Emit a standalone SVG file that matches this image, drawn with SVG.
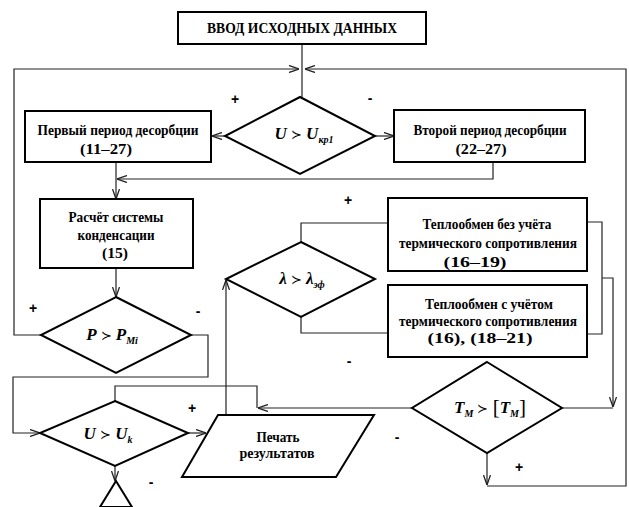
<svg xmlns="http://www.w3.org/2000/svg" width="629" height="507" viewBox="0 0 629 507">
<defs>
<style>
.box{fill:#fff;stroke:#000;stroke-width:2}
.dia{fill:#fff;stroke:#000;stroke-width:2}
.ln{fill:none;stroke:#222;stroke-width:1.2}
.t{font-family:'Times New Roman','Liberation Serif','DejaVu Serif',serif;font-weight:bold;font-size:15.5px;fill:#000;text-anchor:middle}
.m{font-family:'Times New Roman','Liberation Serif','DejaVu Serif',serif;font-weight:bold;font-style:italic;font-size:17px;fill:#000;text-anchor:middle}
.rel{font-family:'DejaVu Serif',serif;font-style:normal;font-weight:normal;font-size:13px}
.sub{font-size:10px}
.br{font-style:normal;font-weight:normal;font-size:21px}
.lb{font-family:'Liberation Sans',Arial,sans-serif;font-weight:bold;font-size:14px;fill:#000;text-anchor:middle}
</style>
<marker id="ar" viewBox="0 0 10 8" refX="10" refY="4" markerWidth="10" markerHeight="8" markerUnits="userSpaceOnUse" orient="auto">
<path d="M0,0.5 L10,4 L0,7.5" fill="none" stroke="#222" stroke-width="1.3"/>
</marker>
</defs>
<rect width="629" height="507" fill="#fff"/>

<g id="connectors">
<path class="ln" d="M302,44 V97"/>
<path class="ln" d="M41,335 H14 V69 H299" marker-end="url(#ar)"/>
<path class="ln" d="M487,453 V485" marker-end="url(#ar)"/>
<path class="ln" d="M487,486 H626 V69 H305" marker-end="url(#ar)"/>
<path class="ln" d="M225,136 H212" marker-end="url(#ar)"/>
<path class="ln" d="M375,136 H394" marker-end="url(#ar)"/>
<path class="ln" d="M116,162 V199" marker-end="url(#ar)"/>
<path class="ln" d="M493,162 V179 H117" marker-end="url(#ar)"/>
<path class="ln" d="M116,268 V297" marker-end="url(#ar)"/>
<path class="ln" d="M191,335 H208 V377 H13 V433 H40" marker-end="url(#ar)"/>
<path class="ln" d="M188,433 H206" marker-end="url(#ar)"/>
<path class="ln" d="M115,466 V481" marker-end="url(#ar)"/>
<path class="ln" d="M226,415 V280" marker-end="url(#ar)"/>
<path class="ln" d="M301,242 V223 H388"/>
<path class="ln" d="M301,317 V333 H388"/>
<path class="ln" d="M587,222 H602 V334 H587"/>
<path class="ln" d="M602,278 H613 V407" marker-end="url(#ar)"/>
<path class="ln" d="M613,408 H562"/>
<path class="ln" d="M412,408 H258" marker-end="url(#ar)"/>
<path class="ln" d="M257,408 V386 H115 V401"/>
</g>

<g id="start">
<rect class="box" x="178" y="12" width="248" height="32"/>
<text class="t" x="302" y="33" textLength="190" lengthAdjust="spacingAndGlyphs">ВВОД ИСХОДНЫХ ДАННЫХ</text>
</g>

<g id="cond-ukp1">
<polygon class="dia" points="300,97 375,136 300,174 225,136"/>
<text class="m" x="304" y="139">U<tspan class="rel"> ≻ </tspan>U<tspan class="sub" dy="4">кр1</tspan></text>
</g>

<g id="period1">
<rect class="box" x="25" y="111" width="186" height="51"/>
<text class="t" x="118" y="135" textLength="161" lengthAdjust="spacingAndGlyphs">Первый период десорбции</text>
<text class="t" x="106" y="154" textLength="52" lengthAdjust="spacingAndGlyphs">(11–27)</text>
</g>

<g id="period2">
<rect class="box" x="394" y="110" width="191" height="52"/>
<text class="t" x="490" y="135" textLength="153" lengthAdjust="spacingAndGlyphs">Второй период десорбции</text>
<text class="t" x="481" y="154" textLength="51" lengthAdjust="spacingAndGlyphs">(22–27)</text>
</g>

<g id="condensation">
<rect class="box" x="40" y="199" width="153" height="69"/>
<text class="t" x="116" y="222" textLength="95" lengthAdjust="spacingAndGlyphs">Расчёт системы</text>
<text class="t" x="116" y="240" textLength="77" lengthAdjust="spacingAndGlyphs">конденсации</text>
<text class="t" x="115" y="258" textLength="26" lengthAdjust="spacingAndGlyphs">(15)</text>
</g>

<g id="cond-p">
<polygon class="dia" points="116,297 191,335 116,373 41,335"/>
<text class="m" x="112" y="340">P<tspan class="rel"> ≻ </tspan>P<tspan class="sub" dy="4">Mi</tspan></text>
</g>

<g id="cond-lambda">
<polygon class="dia" points="301,242 375,279 301,317 226,279"/>
<text class="m" x="302" y="284">λ<tspan class="rel"> ≻ </tspan>λ<tspan class="sub" dy="4">эф</tspan></text>
</g>

<g id="heat1">
<rect class="box" x="388" y="198" width="199" height="73"/>
<text class="t" x="487" y="229" textLength="129" lengthAdjust="spacingAndGlyphs">Теплообмен без учёта</text>
<text class="t" x="488" y="248" textLength="178" lengthAdjust="spacingAndGlyphs">термического сопротивления</text>
<text class="t" x="475" y="267" textLength="63" lengthAdjust="spacingAndGlyphs">(16–19)</text>
</g>

<g id="heat2">
<rect class="box" x="388" y="285" width="199" height="72"/>
<text class="t" x="489" y="309" textLength="128" lengthAdjust="spacingAndGlyphs">Теплообмен с учётом</text>
<text class="t" x="488" y="326" textLength="178" lengthAdjust="spacingAndGlyphs">термического сопротивления</text>
<text class="t" x="480" y="343" textLength="105" lengthAdjust="spacingAndGlyphs">(16), (18–21)</text>
</g>

<g id="cond-tm">
<polygon class="dia" points="487,362 562,408 487,453 412,408"/>
<text class="m" x="490" y="413">T<tspan class="sub" dy="4">M</tspan><tspan class="rel" dy="-4"> ≻ </tspan><tspan class="br" dy="1">[</tspan><tspan dy="-1">T</tspan><tspan class="sub" dy="4">M</tspan><tspan class="br" dy="-3">]</tspan></text>
</g>

<g id="cond-uk">
<polygon class="dia" points="115,401 188,433 115,466 40,433"/>
<text class="m" x="108" y="439">U<tspan class="rel"> ≻ </tspan>U<tspan class="sub" dy="4">k</tspan></text>
</g>

<g id="print">
<polygon class="box" points="218,415 374,415 336,477 182,477"/>
<text class="t" x="278" y="442" textLength="43" lengthAdjust="spacingAndGlyphs">Печать</text>
<text class="t" x="277" y="458" textLength="75" lengthAdjust="spacingAndGlyphs">результатов</text>
</g>

<g id="end">
<polygon class="box" points="116,481 132,507 100,507"/>
</g>

<g id="labels">
<text class="lb" x="235" y="104">+</text>
<text class="lb" x="370" y="103">-</text>
<text class="lb" x="33" y="313">+</text>
<text class="lb" x="198" y="316">-</text>
<text class="lb" x="348" y="205">+</text>
<text class="lb" x="349" y="366">-</text>
<text class="lb" x="192" y="413">+</text>
<text class="lb" x="151" y="487">-</text>
<text class="lb" x="397" y="442">-</text>
<text class="lb" x="519" y="472">+</text>
</g>
</svg>
